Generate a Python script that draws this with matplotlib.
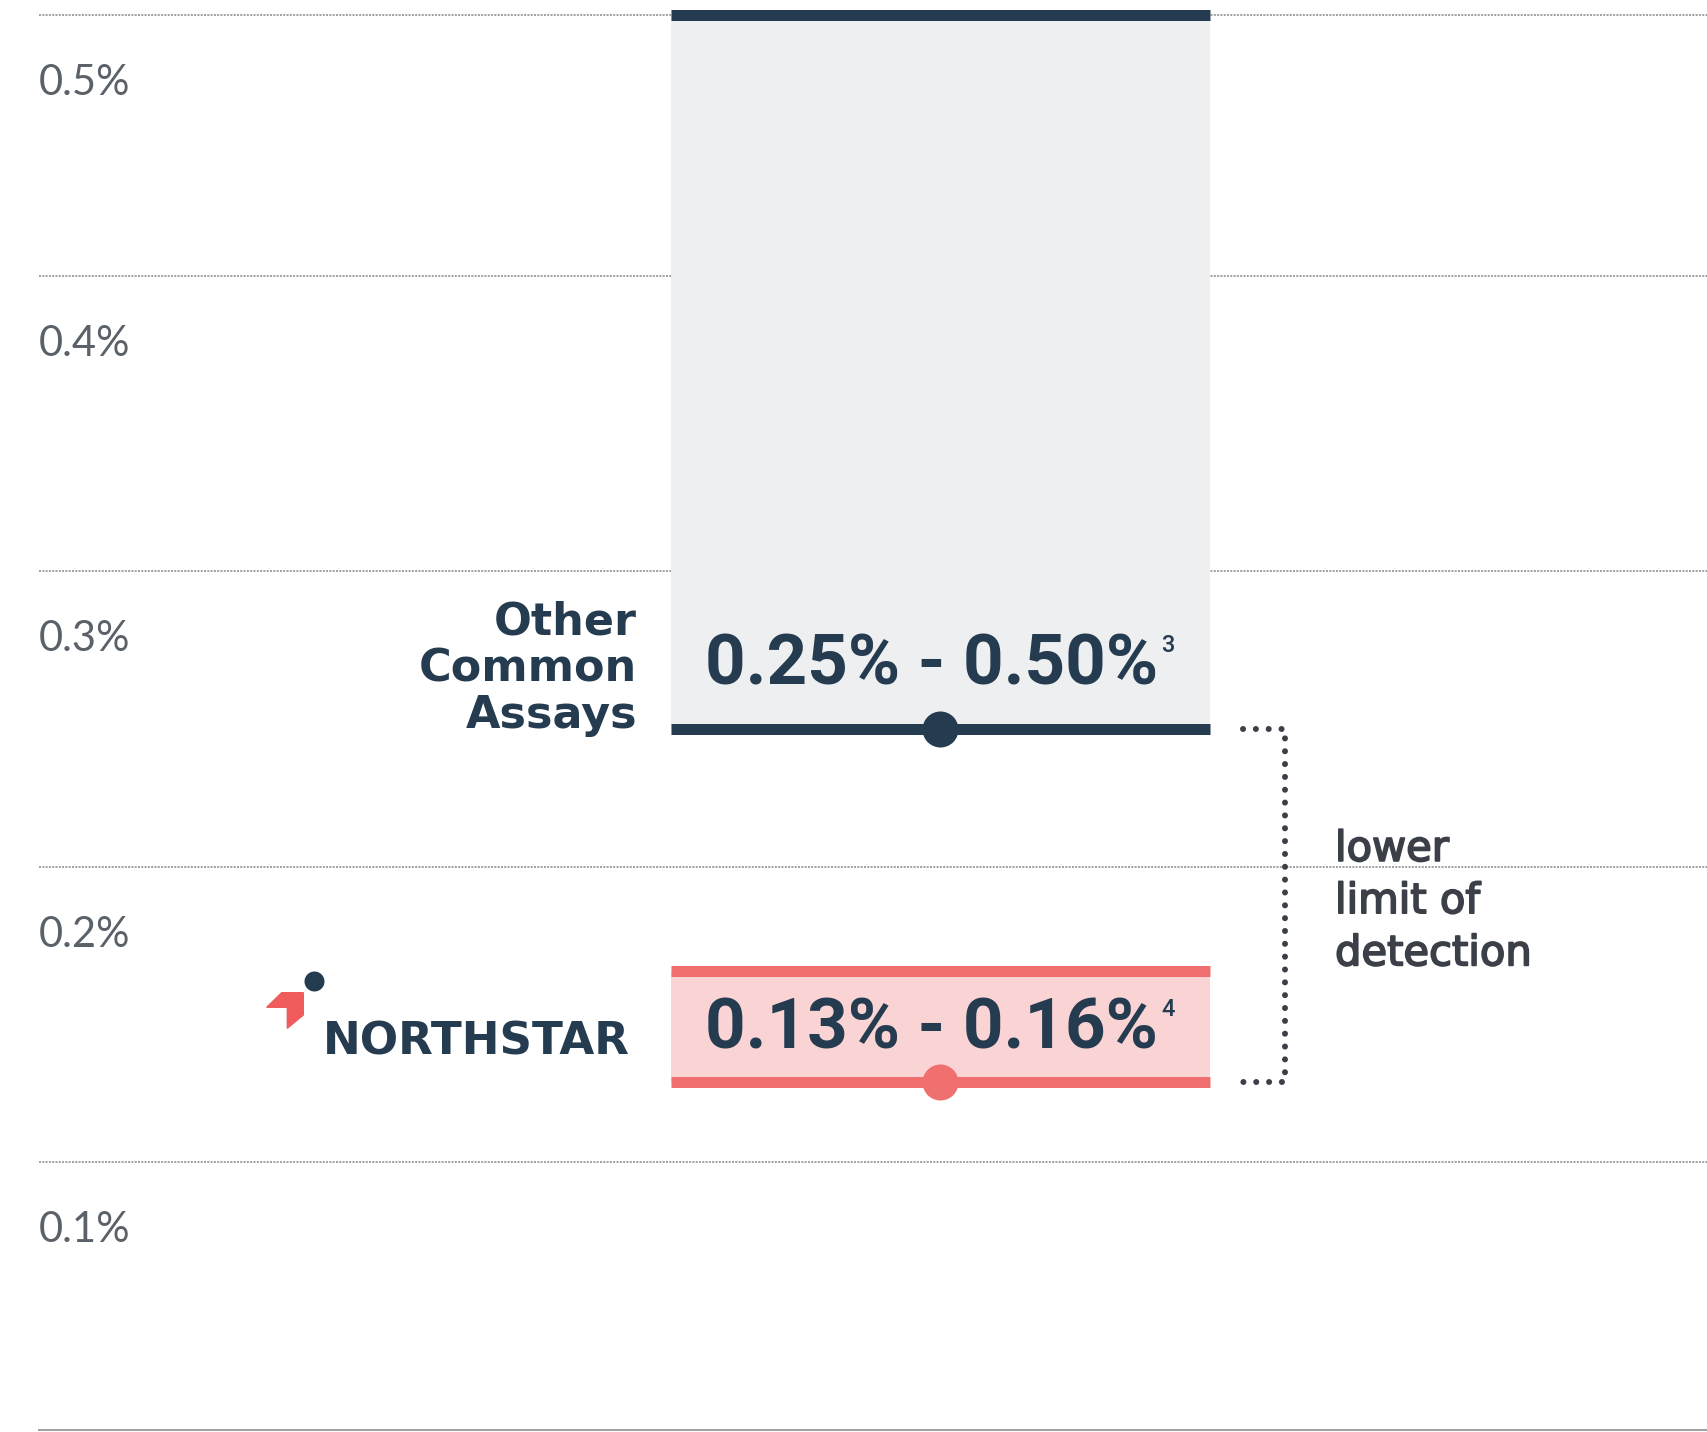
import numpy as np
import matplotlib
matplotlib.use("Agg")
import matplotlib.pyplot as plt
import matplotlib.patheffects as pe
from matplotlib.patches import Polygon
from matplotlib.lines import Line2D

# =========================
# Data
# =========================
row_labels = ["Other\nCommon\nAssays", "NORTHSTAR"]
range_low = [0.2465, 0.127]
range_high = [0.500, 0.1646]
range_text = ["0.25% - 0.50%", "0.13% - 0.16%"]
footnotes = ["3", "4"]
tick_values = [0.1, 0.2, 0.3, 0.4, 0.5]
tick_labels = ["0.1%", "0.2%", "0.3%", "0.4%", "0.5%"]
bracket_text = "lower\nlimit of\ndetection"

# =========================
# Style / layout
# =========================
NAVY = "#253b4f"
CORAL = "#f06f6f"
line_colors = [NAVY, CORAL]
fill_colors = ["#eeeff1", "#fad4d4"]
GRID = "#a2a2a2"
TICK_TXT = "#5a6169"
NOTE = "#3b4048"

W, H = 1707, 1432
PX = 72 / 100  # points per pixel at dpi 100

# the original axis is not evenly spaced: gridline value -> pixel row
SCALE_VAL = [0.0, 0.1, 0.2, 0.3, 0.4, 0.5, 0.6]
SCALE_ROW = [1430, 1162, 867, 571, 276, 15, -280]
scale_h = [H - r for r in SCALE_ROW]


def fwd(v):
    return np.interp(v, SCALE_VAL, scale_h)


def inv(u):
    return np.interp(u, scale_h, SCALE_VAL)


# box layout in pixel units along x
BOX_L, BOX_R = 671, 1210
BOX_X = (BOX_L + BOX_R) / 2
BRACKET_L, BRACKET_R = 1243, 1285
TEXT_RAISE = [45, 34]  # px from the lower line to the value text baseline

fig = plt.figure(figsize=(W / 100, H / 100), dpi=100)
ax = fig.add_axes([39 / W, 2 / H, 1 - 39 / W, 1430 / H])
ax.set_yscale("function", functions=(fwd, inv))
ax.set_xlim(39, W)
ax.set_ylim(0.0, 0.5051)

# gridlines
dots = (0, (1, 0.65))
ax.set_yticks(tick_values)
ax.set_xticks([])
ax.minorticks_off()
ax.tick_params(length=0, labelleft=False)
ax.grid(axis="y", color=GRID, linewidth=2 * PX, linestyle=dots)
ax.set_axisbelow(True)
for s in ["top", "left", "right"]:
    ax.spines[s].set_visible(False)
ax.spines["bottom"].set_color(GRID)
ax.spines["bottom"].set_linewidth(2 * PX)
ax.spines["bottom"].set_linestyle(dots)

for v, lab in zip(tick_values, tick_labels):
    ax.annotate(lab, xy=(0, v), xycoords=("axes fraction", "data"),
                xytext=(0, -80 * PX), textcoords="offset points",
                ha="left", va="baseline", fontsize=30, family="Lato",
                color=TICK_TXT)

# range boxes
for i in range(len(range_low)):
    lo, hi = range_low[i], range_high[i]
    ax.bar(BOX_X, hi - lo, bottom=lo, width=BOX_R - BOX_L,
           color=fill_colors[i], linewidth=0, zorder=2)
    for v in (lo, hi):
        ax.plot([BOX_L, BOX_R], [v, v], color=line_colors[i],
                lw=11 * PX, solid_capstyle="butt", zorder=3)
    ax.plot(BOX_X, lo, "o", ms=36 * PX, color=line_colors[i],
            markeredgewidth=0, zorder=4)

    t = ax.annotate(range_text[i], xy=(BOX_X, lo),
                    xytext=(-9 * PX, TEXT_RAISE[i] * PX),
                    textcoords="offset points",
                    ha="center", va="baseline", fontsize=51, family="Roboto",
                    fontweight="bold", color=NAVY, zorder=5)
    ax.annotate(footnotes[i], xy=(1, 1), xycoords=t,
                xytext=(3 * PX, -3 * PX), textcoords="offset points",
                ha="left", va="top", fontsize=17, family="Roboto",
                fontweight="medium", color=NAVY, zorder=5)

# row labels
ax.annotate(row_labels[0], xy=(BOX_L, range_low[0]),
            xytext=(-34 * PX, -8 * PX), textcoords="offset points",
            ha="right", va="bottom", multialignment="right",
            fontsize=32, fontweight="bold", family="DejaVu Sans",
            linespacing=1.12, color=NAVY)
ax.annotate(row_labels[1], xy=(BOX_L, range_low[1]),
            xytext=(-41 * PX, 28 * PX), textcoords="offset points",
            ha="right", va="baseline", fontsize=32.5, fontweight="bold",
            family="DejaVu Sans", color=NAVY)

# northstar mark
logo = [(266.7, 1007.3), (281.7, 992.7), (303.3, 992.7),
        (303.3, 1015), (287.3, 1028.3), (287.3, 1007.3)]
fig.add_artist(Polygon([(x / W, 1 - y / H) for x, y in logo],
                       closed=True, color="#f05c5c",
                       transform=fig.transFigure))
fig.add_artist(Line2D([313.5 / W], [1 - 981 / H], marker="o",
                      ms=20 * PX, color=NAVY, markeredgewidth=0,
                      transform=fig.transFigure))

# bracket for lower limit of detection
ax.plot([BRACKET_L, BRACKET_R, BRACKET_R, BRACKET_L],
        [range_low[0], range_low[0], range_low[1], range_low[1]],
        color=NOTE, lw=6 * PX, linestyle=(0, (0.01, 2.13)),
        dash_capstyle="round", zorder=3)
ax.annotate(bracket_text, xy=(BRACKET_R, (range_low[0] + range_low[1]) / 2),
            xytext=(50 * PX, 5 * PX), textcoords="offset points",
            ha="left", va="center", fontsize=30, family="DejaVu Sans",
            linespacing=1.31, color=NOTE,
            path_effects=[pe.withStroke(linewidth=1.3, foreground=NOTE)])

fig.savefig("out.png", dpi=100)
